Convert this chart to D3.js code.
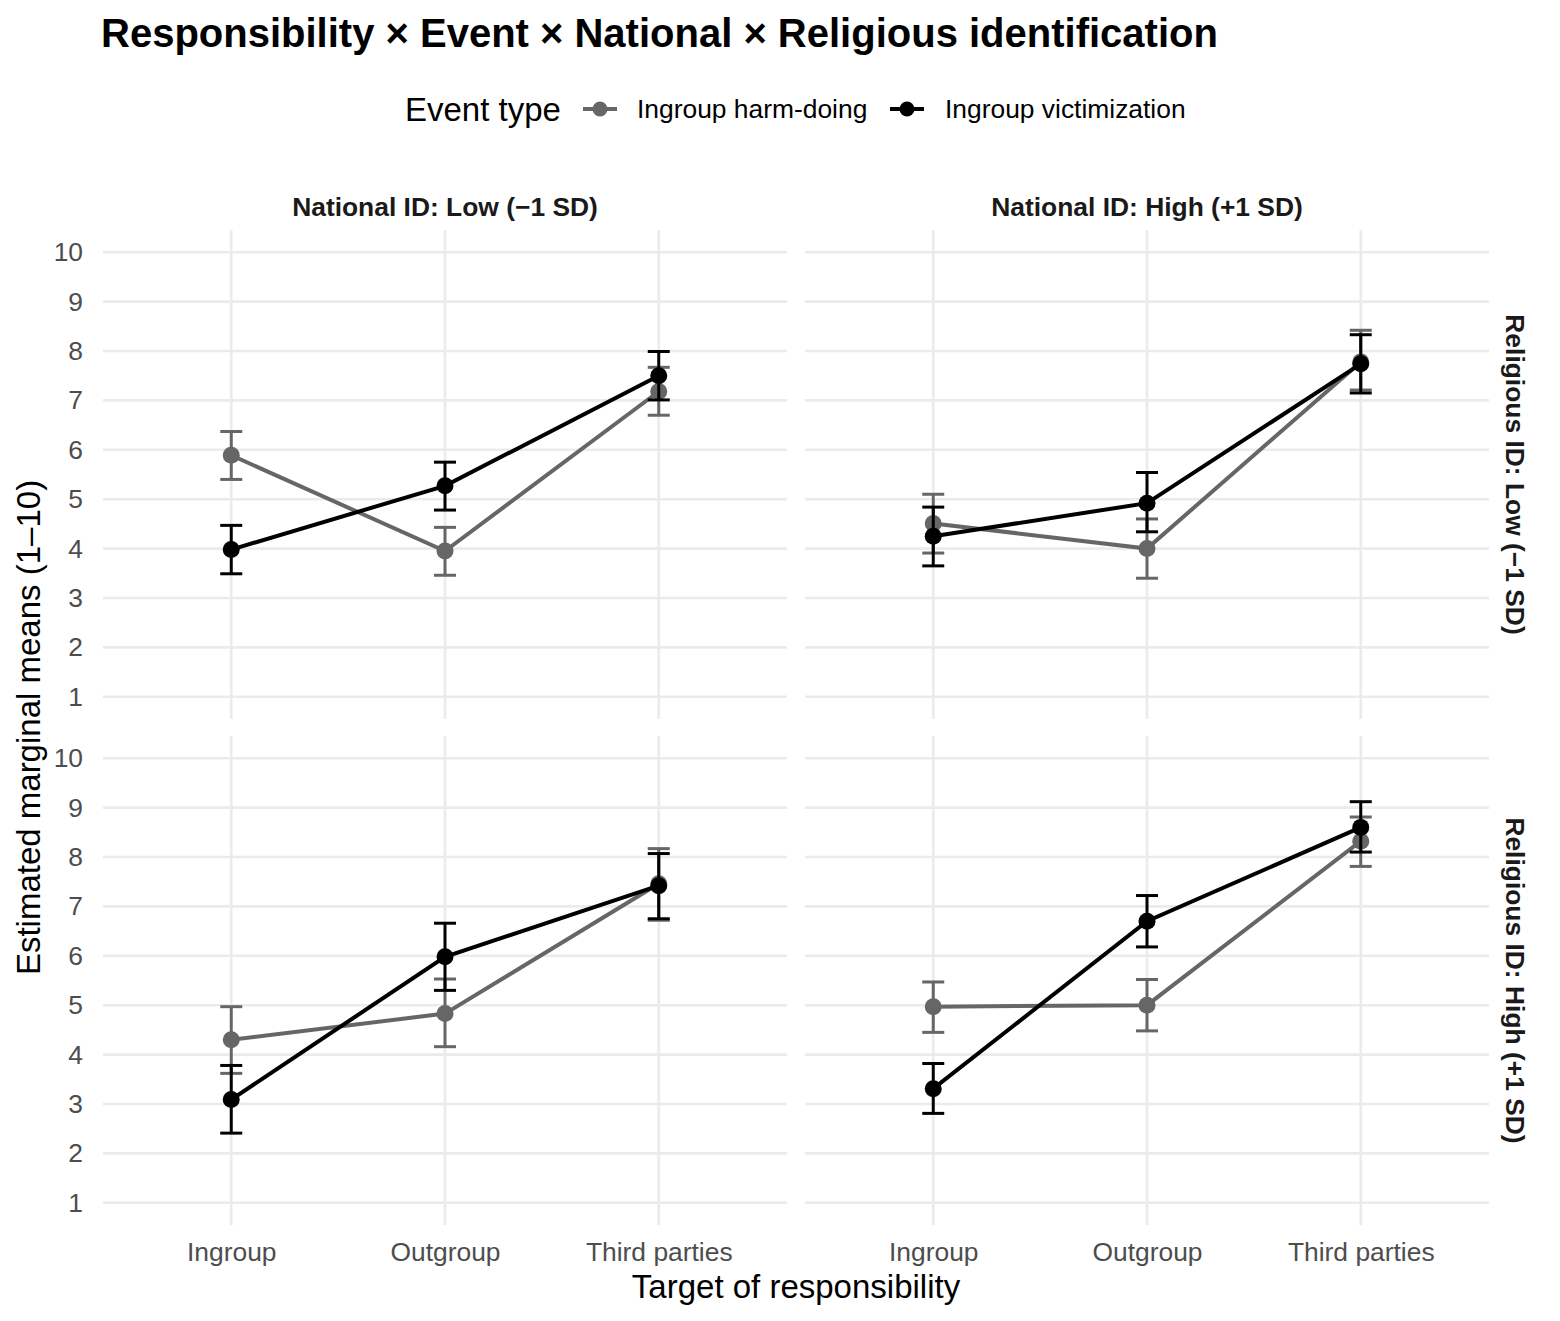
<!DOCTYPE html>
<html>
<head>
<meta charset="utf-8">
<script src="https://cdn.jsdelivr.net/npm/d3@7"></script>
<style>
  body { margin: 0; background: #fff; }
  svg { font-family: "Liberation Sans", Arial, Helvetica, sans-serif; }
</style>
</head>
<body>
<div id="chart"></div>
<script>
`use strict`;

// data
const targets = ['Ingroup', 'Outgroup', 'Third parties'];
const events = ['Ingroup harm-doing', 'Ingroup victimization'];
const nationalLevels = ['National ID: Low (\u22121 SD)', 'National ID: High (+1 SD)'];
const religiousLevels = ['Religious ID: Low (\u22121 SD)', 'Religious ID: High (+1 SD)'];
const yTicks = [1, 2, 3, 4, 5, 6, 7, 8, 9, 10];

// [religious][national][target]
const harmMean = [
    [[5.89, 3.95, 7.18], [4.51, 4.00, 7.78]],
    [[4.30, 4.83, 7.46], [4.97, 5.00, 8.32]]
];
const harmLow = [
    [[5.40, 3.46, 6.70], [3.91, 3.40, 7.21]],
    [[3.62, 4.16, 6.72], [4.45, 4.48, 7.81]]
];
const harmHigh = [
    [[6.37, 4.43, 7.67], [5.10, 4.60, 8.42]],
    [[4.97, 5.53, 8.17], [5.47, 5.52, 8.81]]
];
const victMean = [
    [[3.98, 5.27, 7.50], [4.25, 4.92, 7.74]],
    [[3.09, 5.98, 7.42], [3.31, 6.70, 8.60]]
];
const victLow = [
    [[3.49, 4.78, 7.01], [3.65, 4.34, 7.15]],
    [[2.41, 5.30, 6.75], [2.81, 6.18, 8.10]]
];
const victHigh = [
    [[4.47, 5.75, 7.99], [4.84, 5.54, 8.33]],
    [[3.78, 6.66, 8.07], [3.82, 7.22, 9.12]]
];

let w = 1560, h = 1321;
let baseSize = 33, smallSize = 26.4;
let colors = {'Ingroup harm-doing': '#666666', 'Ingroup victimization': '#000000'};
let panelLeft = [103, 805], panelWidth = 684;
let panelTop = [230, 736], panelHeight = 489;

let svg = d3.select('#chart').append('svg')
    .attr('width', w).attr('height', h);

// title
svg.append('text').text('Responsibility \u00d7 Event \u00d7 National \u00d7 Religious identification')
    .attr('x', 101).attr('y', 47)
    .attr('font-size', 40).attr('font-weight', 'bold').attr('fill', '#000');

// legend
let legend = svg.append('g');
legend.append('text').text('Event type').attr('x', 405).attr('y', 121)
    .attr('font-size', baseSize).attr('fill', '#000');
let keyX = [583, 890], labelX = [637, 945];
events.forEach((e, i) => {
    legend.append('line').attr('x1', keyX[i]).attr('x2', keyX[i] + 34)
        .attr('y1', 109).attr('y2', 109)
        .attr('stroke', colors[e]).attr('stroke-width', 4);
    legend.append('circle').attr('cx', keyX[i] + 17).attr('cy', 109).attr('r', 7.5)
        .attr('fill', colors[e]);
    legend.append('text').text(e).attr('x', labelX[i]).attr('y', 118)
        .attr('font-size', smallSize).attr('fill', '#000');
});

let line = d3.line().x((d) => d.x).y((d) => d.y);

for (let r = 0; r < 2; r++) {
    for (let n = 0; n < 2; n++) {
        let x = d3.scalePoint().domain(targets)
            .range([panelLeft[n], panelLeft[n] + panelWidth]).padding(0.6);
        let y = d3.scaleLinear().domain([1 - 0.45, 10 + 0.45])
            .range([panelTop[r] + panelHeight, panelTop[r]]);
        let g = svg.append('g');

        // grid
        g.selectAll('.hgrid').data(yTicks).enter().append('line')
            .attr('x1', panelLeft[n]).attr('x2', panelLeft[n] + panelWidth)
            .attr('y1', (d) => y(d)).attr('y2', (d) => y(d))
            .attr('stroke', '#ebebeb').attr('stroke-width', 2.6);
        g.selectAll('.vgrid').data(targets).enter().append('line')
            .attr('x1', (d) => x(d)).attr('x2', (d) => x(d))
            .attr('y1', panelTop[r]).attr('y2', panelTop[r] + panelHeight)
            .attr('stroke', '#ebebeb').attr('stroke-width', 2.6);

        // y axis labels (left column only)
        if (n === 0) {
            let ax = d3.axisLeft(y).tickValues(yTicks).tickSize(0).tickPadding(20);
            let axg = svg.append('g').attr('transform', `translate(${panelLeft[0]},0)`).call(ax);
            axg.select('.domain').remove();
            axg.selectAll('text').attr('font-size', smallSize).attr('fill', '#4d4d4d')
                .attr('font-family', '"Liberation Sans", Arial, sans-serif');
        }
        // x axis labels (bottom row only)
        if (r === 1) {
            let ax = d3.axisBottom(x).tickSize(0).tickPadding(17);
            let axg = svg.append('g').attr('transform', `translate(0,${panelTop[1] + panelHeight})`).call(ax);
            axg.select('.domain').remove();
            axg.selectAll('text').attr('font-size', smallSize).attr('fill', '#4d4d4d')
                .attr('font-family', '"Liberation Sans", Arial, sans-serif');
        }

        // series
        let series = [
            {name: events[0], mean: harmMean[r][n], lo: harmLow[r][n], hi: harmHigh[r][n]},
            {name: events[1], mean: victMean[r][n], lo: victLow[r][n], hi: victHigh[r][n]}
        ];
        for (let s of series) {
            let c = colors[s.name];
            targets.forEach((t, i) => {
                let cx = x(t);
                g.append('line').attr('x1', cx).attr('x2', cx)
                    .attr('y1', y(s.lo[i])).attr('y2', y(s.hi[i]))
                    .attr('stroke', c).attr('stroke-width', 3);
                [s.lo[i], s.hi[i]].forEach((v) => {
                    g.append('line').attr('x1', cx - 11).attr('x2', cx + 11)
                        .attr('y1', y(v)).attr('y2', y(v))
                        .attr('stroke', c).attr('stroke-width', 3);
                });
            });
            g.append('path')
                .datum(targets.map((t, i) => ({x: x(t), y: y(s.mean[i])})))
                .attr('d', line).attr('fill', 'none')
                .attr('stroke', c).attr('stroke-width', 4);
            g.selectAll(null).data(targets).enter().append('circle')
                .attr('cx', (d) => x(d)).attr('cy', (d, i) => y(s.mean[i]))
                .attr('r', 8.5).attr('fill', c);
        }

        // strips
        if (r === 0) {
            svg.append('text').text(nationalLevels[n])
                .attr('x', panelLeft[n] + panelWidth / 2).attr('y', 216)
                .attr('text-anchor', 'middle').attr('font-size', smallSize)
                .attr('font-weight', 'bold').attr('fill', '#1a1a1a');
        }
        if (n === 1) {
            let cy = panelTop[r] + panelHeight / 2;
            svg.append('text').text(religiousLevels[r])
                .attr('transform', `translate(1506,${cy}) rotate(90)`)
                .attr('text-anchor', 'middle').attr('font-size', smallSize)
                .attr('font-weight', 'bold').attr('fill', '#1a1a1a');
        }
    }
}

// axis titles
svg.append('text').text('Target of responsibility')
    .attr('x', (panelLeft[0] + panelLeft[1] + panelWidth) / 2).attr('y', 1298)
    .attr('text-anchor', 'middle').attr('font-size', baseSize).attr('fill', '#000');
svg.append('text').text('Estimated marginal means (1\u201310)')
    .attr('transform', `translate(40,${(panelTop[0] + panelTop[1] + panelHeight) / 2}) rotate(-90)`)
    .attr('text-anchor', 'middle').attr('font-size', baseSize).attr('fill', '#000');
</script>
</body>
</html>
